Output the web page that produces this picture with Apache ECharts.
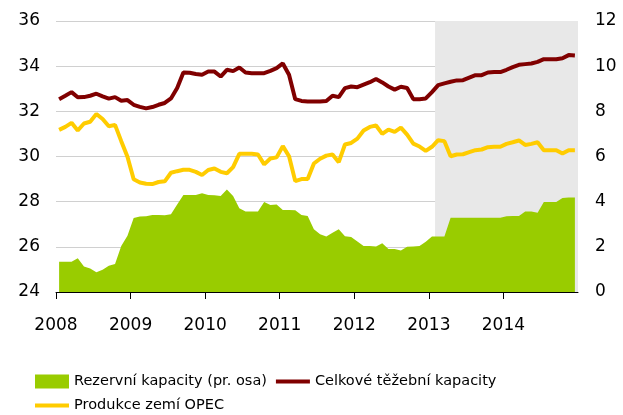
<!DOCTYPE html>
<html>
<head>
<meta charset="utf-8">
<script src="https://cdn.jsdelivr.net/npm/echarts@6/dist/echarts.min.js"></script>
<style>
  html, body { margin: 0; padding: 0; background: #fff; }
  #main { width: 623px; height: 415px; }
</style>
</head>
<body>
<div id="main"></div>
<script>
// monthly data, Jan 2008 .. Dec 2014
var startYear = 2008;
var forecastStart = 2013 + 1 / 12;   // shaded part starts Feb 2013
var yearTicks = [2008, 2009, 2010, 2011, 2012, 2013, 2014];

// Celkové těžební kapacity (left axis, mil. barelů/den)
var capacity = [
    32.54, 32.69, 32.85, 32.62, 32.63, 32.69, 32.78, 32.66, 32.56, 32.63, 32.47, 32.50,
    32.29, 32.20, 32.13, 32.19, 32.29, 32.37, 32.57, 33.03, 33.72, 33.71, 33.65, 33.62,
    33.76, 33.76, 33.54, 33.84, 33.78, 33.94, 33.72, 33.69, 33.69, 33.69, 33.79, 33.91,
    34.12, 33.62, 32.54, 32.46, 32.44, 32.44, 32.44, 32.46, 32.69, 32.63, 33.03, 33.10,
    33.07, 33.18, 33.29, 33.43, 33.28, 33.10, 32.96, 33.09, 33.03, 32.54, 32.54, 32.57,
    32.85, 33.16, 33.24, 33.31, 33.37, 33.38, 33.49, 33.60, 33.60, 33.72, 33.74, 33.74,
    33.84, 33.96, 34.06, 34.09, 34.12, 34.19, 34.31, 34.31, 34.31, 34.35, 34.49, 34.47
];

// Produkce zemí OPEC (left axis)
var production = [
    31.18, 31.31, 31.49, 31.15, 31.46, 31.54, 31.88, 31.66, 31.34, 31.40, 30.68, 29.99,
    28.99, 28.85, 28.79, 28.78, 28.87, 28.90, 29.28, 29.35, 29.41, 29.41, 29.32, 29.18,
    29.40, 29.47, 29.32, 29.26, 29.53, 30.12, 30.12, 30.12, 30.09, 29.65, 29.91, 29.96,
    30.46, 30.01, 28.91, 29.00, 29.00, 29.69, 29.90, 30.04, 30.09, 29.75, 30.53, 30.60,
    30.79, 31.15, 31.31, 31.37, 31.00, 31.19, 31.09, 31.28, 30.97, 30.57, 30.44, 30.25,
    30.43, 30.72, 30.68, 30.01, 30.09, 30.10, 30.19, 30.28, 30.31, 30.41, 30.43, 30.43,
    30.56, 30.63, 30.71, 30.51, 30.56, 30.63, 30.28, 30.28, 30.28, 30.13, 30.28, 30.28
];

// Rezervní kapacity (right axis)
var spare = [
    1.34, 1.34, 1.34, 1.49, 1.13, 1.04, 0.87, 0.99, 1.16, 1.24, 2.04, 2.49,
    3.28, 3.34, 3.35, 3.41, 3.41, 3.40, 3.44, 3.88, 4.29, 4.29, 4.29, 4.37,
    4.29, 4.28, 4.25, 4.54, 4.25, 3.71, 3.57, 3.56, 3.56, 3.99, 3.85, 3.87,
    3.63, 3.63, 3.62, 3.41, 3.37, 2.78, 2.56, 2.46, 2.62, 2.78, 2.47, 2.44,
    2.24, 2.04, 2.04, 2.01, 2.16, 1.90, 1.90, 1.84, 2.00, 2.01, 2.04, 2.22,
    2.46, 2.46, 2.46, 3.29, 3.29, 3.29, 3.29, 3.29, 3.29, 3.29, 3.29, 3.29,
    3.35, 3.37, 3.37, 3.56, 3.56, 3.51, 3.99, 3.99, 3.99, 4.16, 4.18, 4.18
];

// month i sits in the middle of its month on a year scale
function toPoints(arr) {
    return arr.map(function (v, i) { return [startYear + (i + 0.5) / 12, v]; });
}

var myChart = echarts.init(document.getElementById('main'));
var font = 'DejaVu Sans';
var lineIcon = 'path://M0,0L34,0L34,4L0,4Z';

var option = {
    animation: false,
    textStyle: { fontFamily: font },
    grid: { left: 56, right: 45, top: 21, bottom: 123 },
    legend: {
        left: 30,
        top: 369,
        width: 500,
        itemWidth: 34,
        itemHeight: 14,
        itemGap: 9,
        textStyle: { fontFamily: font, fontSize: 14.5, color: '#000' },
        data: [
            { name: 'Rezervní kapacity (pr. osa)', icon: 'rect' },
            { name: 'Celkové těžební kapacity', icon: lineIcon },
            { name: 'Produkce zemí OPEC', icon: lineIcon }
        ]
    },
    xAxis: {
        type: 'value',
        min: 2008,
        max: 2015,
        interval: 1,
        splitLine: { show: false },
        axisLine: { show: true, lineStyle: { color: '#000', width: 1 } },
        axisTick: { show: true, length: 7, inside: false, lineStyle: { color: '#000' } },
        axisLabel: {
            fontSize: 17,
            color: '#000',
            margin: 25,
            showMaxLabel: false,
            formatter: function (v) { return yearTicks.indexOf(v) >= 0 ? String(v) : ''; }
        }
    },
    yAxis: [
        {
            type: 'value',
            min: 24, max: 36, interval: 2,
            axisLine: { show: false },
            axisTick: { show: false },
            axisLabel: { fontSize: 17, color: '#000', margin: 16 },
            splitLine: { lineStyle: { color: '#d0d0d0', width: 1 } }
        },
        {
            type: 'value',
            min: 0, max: 12, interval: 2,
            axisLine: { show: false },
            axisTick: { show: false },
            axisLabel: { fontSize: 17, color: '#000', margin: 17 },
            splitLine: { show: false }
        }
    ],
    series: [
        {
            name: 'Rezervní kapacity (pr. osa)',
            type: 'line',
            yAxisIndex: 1,
            symbol: 'none',
            data: toPoints(spare),
            lineStyle: { width: 0 },
            itemStyle: { color: '#99cc00' },
            areaStyle: { color: '#99cc00', opacity: 1 },
            z: 2,
            markArea: {
                silent: true,
                itemStyle: { color: '#e8e8e8' },
                data: [[{ xAxis: forecastStart }, { xAxis: 2015 }]],
                z: 0
            }
        },
        {
            name: 'Celkové těžební kapacity',
            type: 'line',
            symbol: 'none',
            data: toPoints(capacity),
            lineStyle: { width: 4, color: '#800000' },
            itemStyle: { color: '#800000' },
            z: 4
        },
        {
            name: 'Produkce zemí OPEC',
            type: 'line',
            symbol: 'none',
            data: toPoints(production),
            lineStyle: { width: 4, color: '#ffcc00' },
            itemStyle: { color: '#ffcc00' },
            z: 3
        }
    ]
};

myChart.setOption(option);
</script>
</body>
</html>
